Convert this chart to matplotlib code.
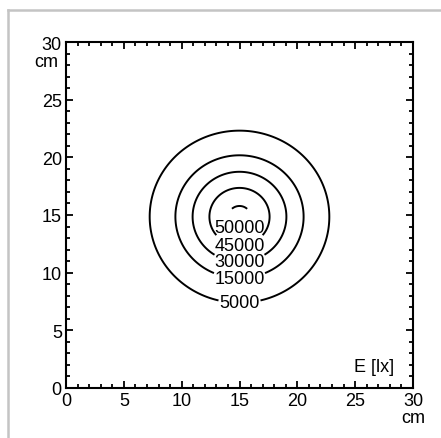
import matplotlib.pyplot as plt
from matplotlib.lines import Line2D
from matplotlib.ticker import MultipleLocator
import numpy as np

plt.rcParams['font.family'] = ['Liberation Sans', 'DejaVu Sans']

# illuminance levels drawn, lx
LEVELS = [5000, 15000, 30000, 45000, 50000]
# where each level's label sits (x, y in cm)
LABEL_POS = [(15.0, 7.3), (15.0, 9.5), (15.0, 10.9), (15.0, 12.5), (15.0, 14.2)]

# spot model: E = E_PEAK / (1 + (r/R0)^N), slightly elliptical
E_PEAK = 50110
CENTER = (15.0, 14.85)
R0 = 4.35
N = 4
STRETCH = (1.03, 0.99)

x = np.linspace(0, 30, 601)
y = np.linspace(0, 30, 601)
X, Y = np.meshgrid(x, y)
R = np.sqrt(((X - CENTER[0]) / STRETCH[0])**2 + ((Y - CENTER[1]) / STRETCH[1])**2)
E = E_PEAK / (1 + (R / R0)**N)

FS = 13

fig = plt.figure(figsize=(4.41, 4.39), dpi=100)
ax = fig.add_axes([66/441, 50/439, 347/441, 346/439])

cs = ax.contour(X, Y, E, levels=LEVELS, colors='black', linewidths=1.4)
labels = ax.clabel(cs, fmt='%d', fontsize=FS, inline=True, inline_spacing=1,
                   manual=LABEL_POS)
for t in labels:
    t.set_rotation(0)

ax.set_xlim(0, 30)
ax.set_ylim(0, 30)
ax.xaxis.set_major_locator(MultipleLocator(5))
ax.yaxis.set_major_locator(MultipleLocator(5))
ax.xaxis.set_minor_locator(MultipleLocator(1))
ax.yaxis.set_minor_locator(MultipleLocator(1))
ax.tick_params(which='both', direction='in', top=True, right=True, labelsize=FS, pad=3)
ax.tick_params(which='major', length=5, width=1.3)
ax.tick_params(which='minor', length=3, width=1.3)
for s in ax.spines.values():
    s.set_linewidth(1.5)

ax.text(1.0, -0.06, 'cm', transform=ax.transAxes, ha='center', va='top', fontsize=FS)
ax.text(-0.022, 0.968, 'cm', transform=ax.transAxes, ha='right', va='top', fontsize=FS)
ax.text(28.4, 1.9, 'E [lx]', ha='right', va='center', fontsize=FS)

# light grey frame around the panel
fig.add_artist(Line2D([7.5/441, 7.5/441], [0, 1 - 10.5/439], transform=fig.transFigure,
                      color='#c4c4c4', lw=1.8))
fig.add_artist(Line2D([7.5/441, 1], [1 - 10.5/439, 1 - 10.5/439], transform=fig.transFigure,
                      color='#c4c4c4', lw=1.8))

fig.savefig('out.png', dpi=100)
